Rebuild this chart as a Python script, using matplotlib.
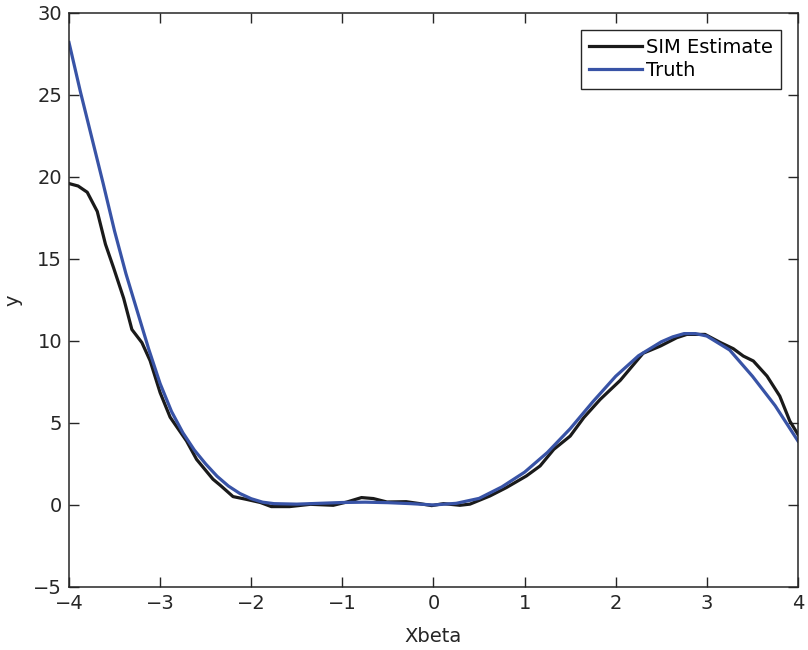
import numpy as np
import matplotlib.pyplot as plt

plt.rcParams['font.family'] = ['DejaVu Sans']

# True link function, sampled along the index
truth_x = [-4.0, -3.875, -3.75, -3.625, -3.5, -3.375, -3.25, -3.125, -3.0,
           -2.875, -2.75, -2.625, -2.5, -2.375, -2.25, -2.125, -2.0, -1.875,
           -1.75, -1.5, -1.25, -1.0, -0.75, -0.5, -0.25, 0.0, 0.25, 0.5,
           0.75, 1.0, 1.25, 1.5, 1.75, 2.0, 2.25, 2.5, 2.625, 2.75, 2.875,
           3.0, 3.25, 3.5, 3.75, 4.0]
truth_y = [28.2, 25.2, 22.4, 19.6, 16.7, 14.1, 11.8, 9.5, 7.4,
           5.7, 4.4, 3.35, 2.5, 1.75, 1.15, 0.7, 0.38, 0.17,
           0.08, 0.05, 0.1, 0.15, 0.17, 0.14, 0.08, 0.0, 0.1, 0.4,
           1.1, 2.0, 3.2, 4.65, 6.3, 7.85, 9.1, 9.95, 10.25, 10.45, 10.45,
           10.3, 9.45, 7.85, 6.05, 3.9]

# Single index model estimate
sim_x = [-4.0, -3.9, -3.8, -3.69, -3.60, -3.51, -3.40, -3.31, -3.20, -3.11,
         -3.0, -2.89, -2.71, -2.60, -2.42, -2.34, -2.20, -2.06, -1.90, -1.78,
         -1.58, -1.35, -1.10, -0.95, -0.79, -0.66, -0.51, -0.30, -0.15, -0.02,
         0.11, 0.29, 0.40, 0.62, 0.80, 1.02, 1.17, 1.32, 1.50, 1.65,
         1.83, 2.05, 2.30, 2.49, 2.67, 2.78, 2.98, 3.15, 3.29, 3.40,
         3.51, 3.66, 3.80, 3.91, 4.0]
sim_y = [19.6, 19.45, 19.07, 17.9, 15.9, 14.45, 12.6, 10.7, 9.9, 8.8,
         6.85, 5.35, 3.9, 2.78, 1.57, 1.2, 0.51, 0.35, 0.15, -0.1,
         -0.1, 0.04, -0.02, 0.18, 0.45, 0.39, 0.18, 0.2, 0.08, -0.04,
         0.08, -0.02, 0.05, 0.55, 1.06, 1.77, 2.38, 3.39, 4.2, 5.33,
         6.44, 7.6, 9.25, 9.69, 10.2, 10.4, 10.4, 9.9, 9.53, 9.08,
         8.78, 7.86, 6.64, 5.12, 4.3]

fig = plt.figure(figsize=(8.08, 6.5), dpi=100)
ax = fig.add_axes([0.0854, 0.097, 0.9022, 0.883])

ax.plot(sim_x, sim_y, color='#1a1a1a', lw=2.3, label='SIM Estimate')
ax.plot(truth_x, truth_y, color='#3853a6', lw=2.3, label='Truth')

ax.set_xlim(-4, 4)
ax.set_ylim(-5, 30)
ax.set_xticks(range(-4, 5))
ax.set_yticks(range(-5, 31, 5))
ax.tick_params(direction='in', length=7, width=1, top=True, right=True,
               labelsize=14, colors='#262626', pad=5)
for s in ax.spines.values():
    s.set_linewidth(1.1)
    s.set_color('#262626')

ax.set_xlabel('Xbeta', fontsize=14, color='#262626', labelpad=10)
ax.set_ylabel('y', fontsize=14, color='#262626', labelpad=8)

leg = ax.legend(loc='upper right', fontsize=14, handlelength=2.7,
                handletextpad=0.2, borderaxespad=0.85, borderpad=0.45,
                labelspacing=0.2, fancybox=False, framealpha=1)
leg.get_frame().set_edgecolor('#262626')
leg.get_frame().set_linewidth(1.0)

fig.savefig('out.png', dpi=100)
